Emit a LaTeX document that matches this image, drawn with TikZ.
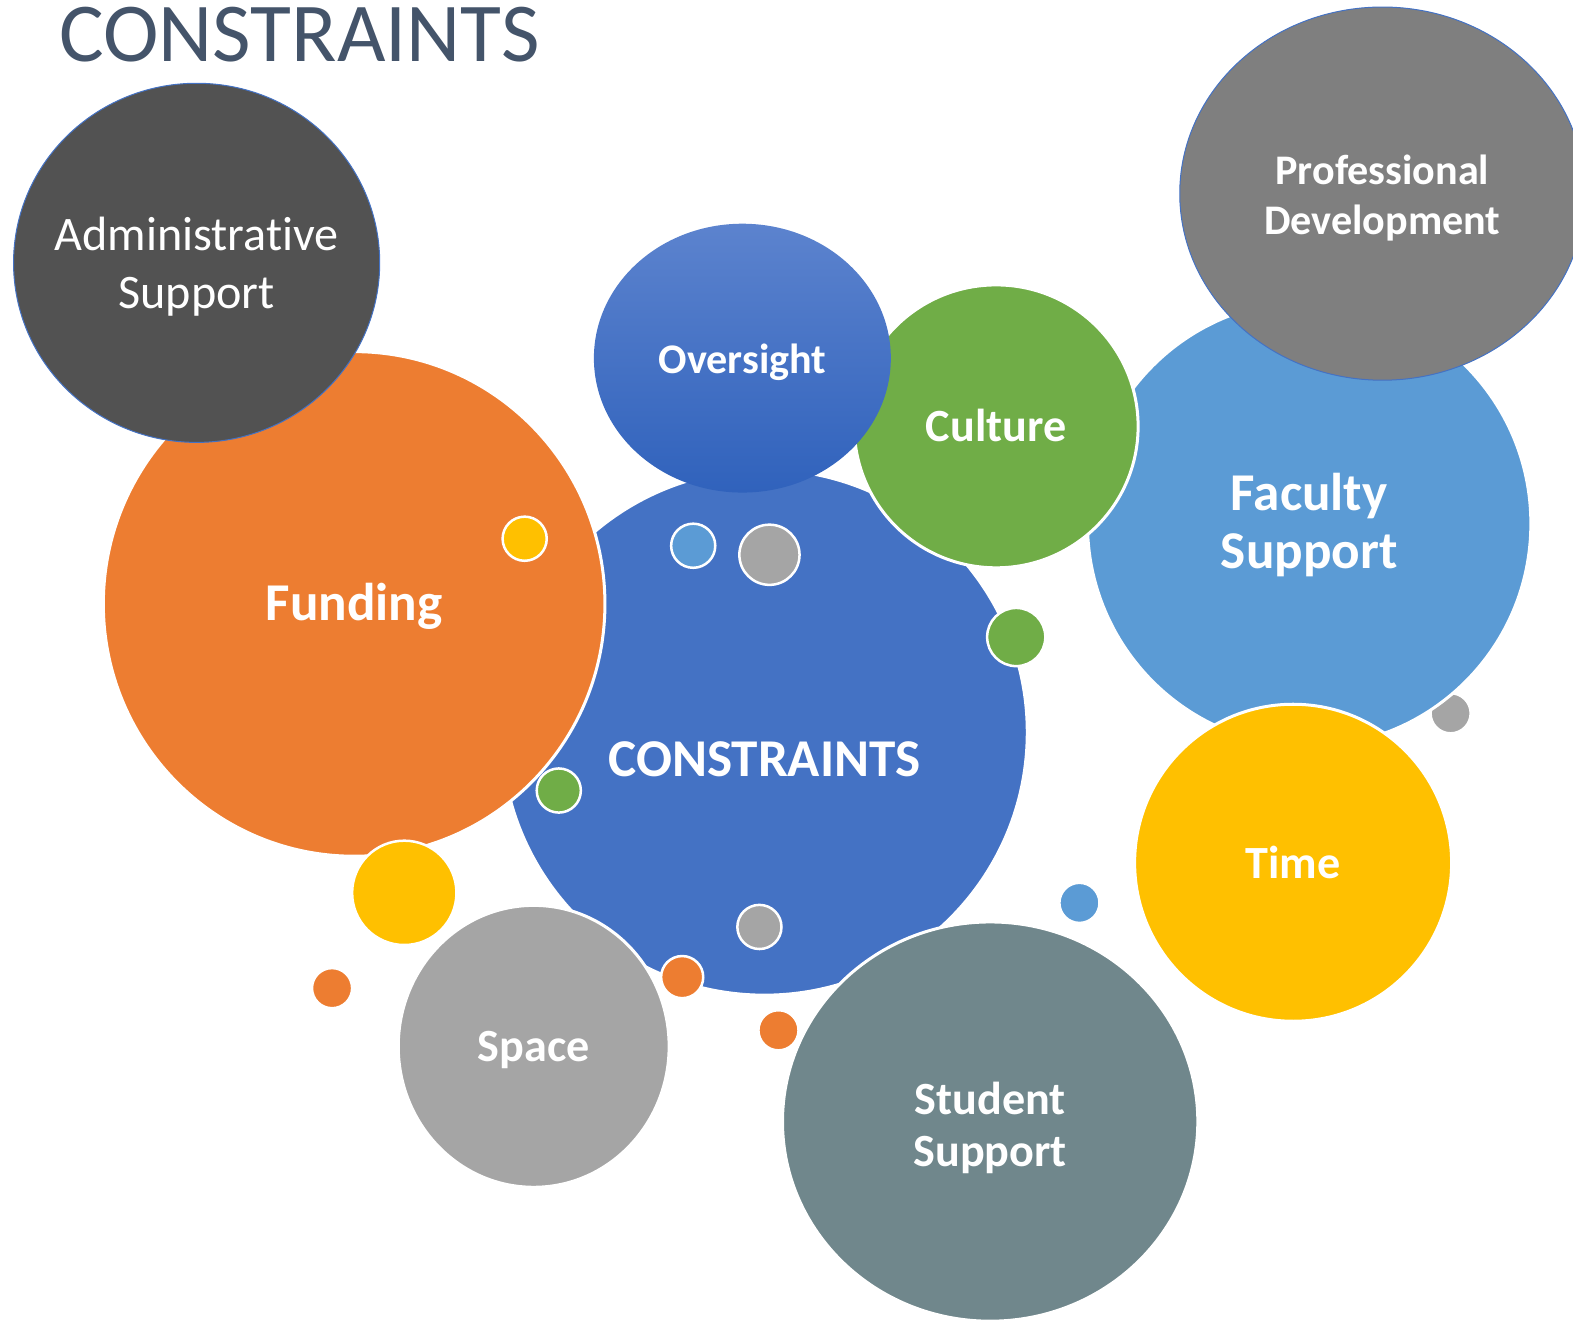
\documentclass[tikz,border=0pt]{standalone}
\usepackage{fontspec}
\setmainfont{Carlito}[Ligatures=NoCommon]
\usetikzlibrary{shapes.geometric}
\definecolor{titleblue}{RGB}{68,84,106}
\definecolor{admingray}{RGB}{82,82,82}
\definecolor{fundorange}{RGB}{237,125,49}
\definecolor{coreblue}{RGB}{68,114,196}
\definecolor{overtop}{RGB}{92,131,206}
\definecolor{overbottom}{RGB}{48,98,188}
\definecolor{culturegreen}{RGB}{112,173,71}
\definecolor{facultyblue}{RGB}{91,155,213}
\definecolor{profgray}{RGB}{127,127,127}
\definecolor{timeyellow}{RGB}{255,192,0}
\definecolor{studentslate}{RGB}{112,135,140}
\definecolor{spacegray}{RGB}{165,165,165}

\begin{document}
\begin{tikzpicture}[x=1pt, y=-1pt,
    bubble/.style={ellipse, inner sep=0pt, draw=white, line width=3pt},
    thinrim/.style={draw=coreblue, line width=1pt},
    dot/.style={circle, inner sep=0pt, draw=white, line width=2.5pt},
    bigtext/.style={text=white, align=center, font=\bfseries\fontsize{53}{58}\selectfont},
    midtext/.style={text=white, align=center, font=\bfseries\fontsize{46}{52}\selectfont},
    smalltext/.style={text=white, align=center, font=\bfseries\fontsize{42}{50}\selectfont},
    plaintext/.style={text=white, align=center, font=\fontsize{48}{58}\selectfont}]
    \useasboundingbox (0,0) rectangle (1568,1316);

    % Title
    \node[anchor=base west, inner sep=0pt, text=titleblue, font=\fontsize{83.5}{94}\selectfont] (title) at (59,61) {CONSTRAINTS};

    % Dot hidden behind Faculty Support
    \node[dot, fill=spacegray, minimum size=40pt] (dotfac) at (1446,711) {};

    % Big bubbles, back to front
    \node[bubble, fill=facultyblue, minimum width=442pt, minimum height=444pt,
        label={[bigtext, yshift=-1pt]center:Faculty\\Support}] (faculty) at (1305,522) {};
    \node[bubble, fill=coreblue, minimum width=524pt, minimum height=524pt,
        label={[bigtext, yshift=-27pt]center:CONSTRAINTS}] (core) at (762,730) {};
    \node[bubble, fill=fundorange, minimum width=500pt, minimum height=503pt,
        label={[bigtext, yshift=-2pt]center:Funding}] (funding) at (353,602) {};
    \node[bubble, thinrim, fill=admingray, minimum width=365pt, minimum height=358pt,
        label={[plaintext, yshift=-4pt]center:Administrative\\Support}] (admin) at (196,262) {};
    \node[bubble, fill=culturegreen, minimum width=283pt, minimum height=282pt,
        label={[midtext, yshift=1pt]center:Culture}] (culture) at (993,425) {};
    \node[ellipse, inner sep=0pt, top color=overtop, bottom color=overbottom, minimum width=296pt, minimum height=268pt,
        label={[smalltext, yshift=-4pt]center:Oversight}] (oversight) at (740,357) {};
    \node[bubble, thinrim, fill=profgray, minimum width=404pt, minimum height=372pt,
        label={[smalltext, yshift=-4pt]center:Professional\\Development}] (profdev) at (1378,193) {};
    \node[bubble, fill=timeyellow, minimum width=316pt, minimum height=316pt,
        label={[midtext]center:Time}] (timebub) at (1289,860) {};
    \node[bubble, fill=spacegray, minimum width=270pt, minimum height=281pt,
        label={[midtext, yshift=-4pt]center:Space}] (space) at (532,1043) {};
    \node[bubble, fill=studentslate, minimum width=414pt, minimum height=398pt,
        label={[midtext, yshift=-6pt]center:Student\\Support}] (student) at (987,1118) {};

    % Small dots
    \foreach \x/\y/\d/\c [count=\i] in {523/537/44/timeyellow, 691/544/44/facultyblue,
        767/553/60/spacegray, 1013/635/58/culturegreen, 557/788/44/culturegreen,
        403/890/104/timeyellow, 331/985/40/fundorange, 757/924/44/spacegray,
        680/974/42/fundorange, 776/1027/40/fundorange, 1076/900/40/facultyblue}
        \node[dot, fill=\c, minimum size=\d*1pt] (dot\i) at (\x,\y) {};
\end{tikzpicture}
\end{document}
